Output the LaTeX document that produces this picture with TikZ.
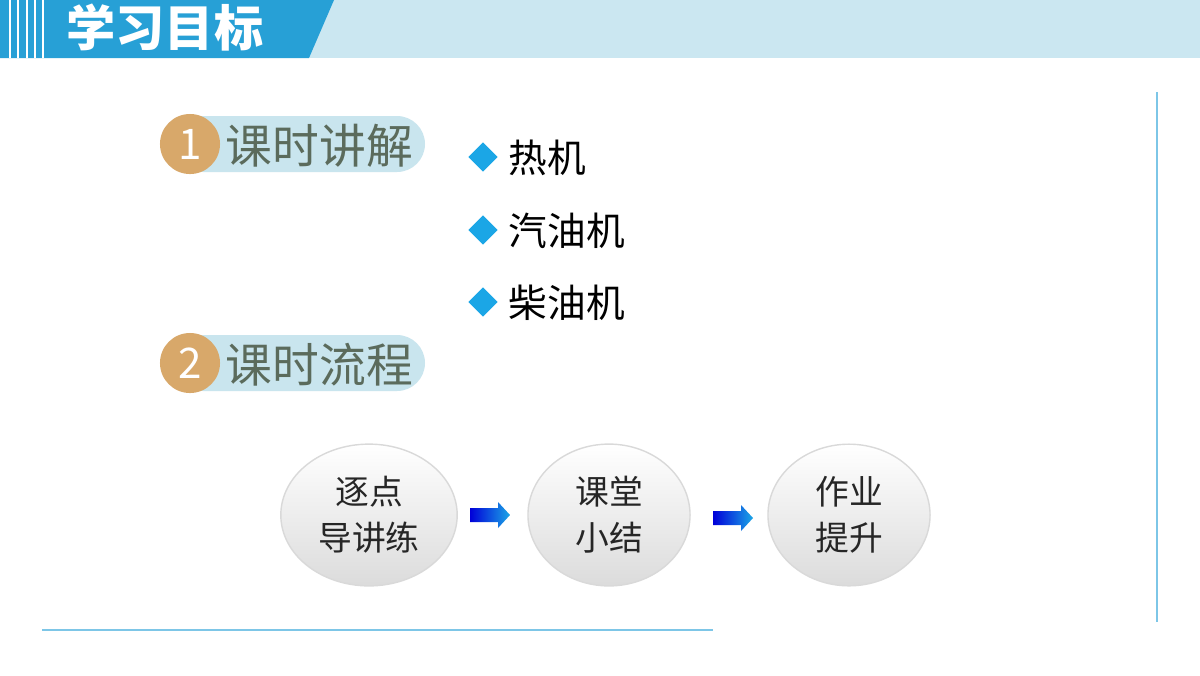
\documentclass[tikz,border=0pt]{standalone}
\usepackage{fontspec}
\newfontfamily\cjk{Noto Sans CJK SC}
\usetikzlibrary{shapes.geometric}
\definecolor{dblue}{HTML}{27A0D6}
\definecolor{lblue}{HTML}{CBE7F1}
\definecolor{pill}{HTML}{C9E5EE}
\definecolor{orng}{HTML}{D8A86A}
\definecolor{gtext}{HTML}{5B6B5C}
\definecolor{cyanb}{HTML}{1BA6E6}
\tikzset{
 pilltxt/.style={font=\cjk\fontsize{13.3pt}{14pt}\selectfont, text=gtext, anchor=west, inner sep=0},
 numtxt/.style={circle, fill=orng, minimum size=0.6cm, inner sep=0, text=white, font=\cjk\fontsize{12pt}{12pt}\selectfont},
 bul/.style={diamond, fill=cyanb, minimum size=0.3cm, inner sep=0},
 bultxt/.style={font=\cjk\fontsize{11pt}{11pt}\selectfont, anchor=west, inner sep=0},
 ball/.style={ellipse, minimum width=1.62cm, minimum height=1.22cm, draw=gray!30, top color=white, bottom color=gray!28, align=center, font=\cjk\fontsize{9.6pt}{13pt}\selectfont, text=black!85},
 flow/.style={left color=blue!85!black, right color=cyanb, draw=none}
}
\begin{document}
\begin{tikzpicture}[x=0.01cm,y=-0.01cm]
\useasboundingbox (0,0) rectangle (1200,675);
\fill[white] (0,0) rectangle (1200,675);
\fill[lblue] (0,0) rectangle (1200,58);
\fill[dblue] (0,0) -- (334,0) -- (309,58) -- (0,58) -- cycle;
\foreach \x in {10,18,27,35,43} \draw[white, line width=0.6pt] (\x,0) -- (\x,58);
\node[font=\cjk\bfseries\fontsize{14pt}{14pt}\selectfont, text=white] (title) at (165,28) {学习目标};
% badges
\fill[pill, rounded corners=0.28cm] (175,116) rectangle (425,172);
\node[numtxt] (n1) at (190,144) {1};
\node[pilltxt] (t1) at (225,146) {课时讲解};
\fill[pill, rounded corners=0.28cm] (175,335) rectangle (425,391);
\node[numtxt] (n2) at (190,363) {2};
\node[pilltxt] (t2) at (225,365) {课时流程};
% bullets
\node[bul] (b1) at (483,157) {};
\node[bultxt] (l1) at (508,158) {热机};
\node[bul] (b2) at (483,230) {};
\node[bultxt] (l2) at (508,231) {汽油机};
\node[bul] (b3) at (483,302) {};
\node[bultxt] (l3) at (508,303) {柴油机};
% lines
\draw[dblue!60, line width=0.6pt] (1157,92) -- (1157,622);
\draw[dblue!60, line width=0.6pt] (42,630) -- (713,630);
% flow
\node[ball] (c1) at (369,515) {逐点\\导讲练};
\node[ball] (c2) at (609,515) {课堂\\小结};
\node[ball] (c3) at (849,515) {作业\\提升};
\coordinate (a1) at (470,515);
\coordinate (a2) at (713,518);
\foreach \a in {a1,a2}
  \shade[flow] ([shift={(0,-7)}]\a) -- ++(28,0) -- ++(0,-6) -- ++(12,13) -- ++(-12,13) -- ++(0,-6) -- ++(-28,0) -- cycle;
\end{tikzpicture}
\end{document}
